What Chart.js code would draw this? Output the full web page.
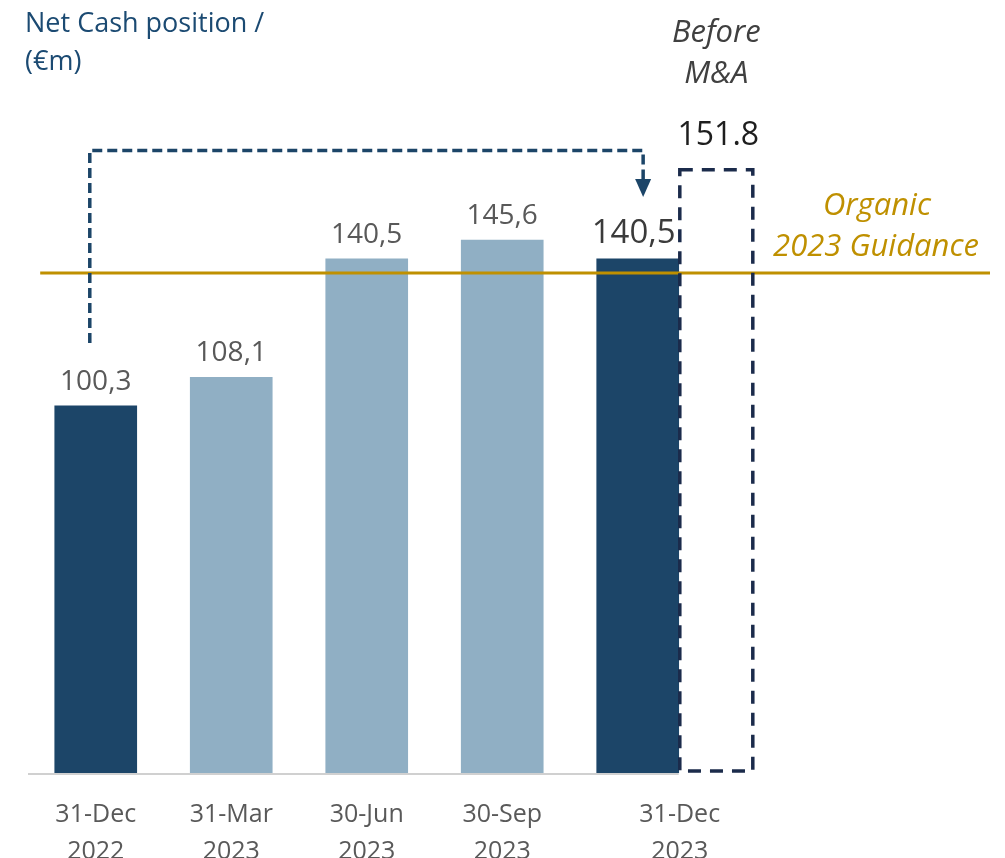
<!DOCTYPE html>
<html>
<head>
<meta charset="utf-8">
<script src="https://cdn.jsdelivr.net/npm/chart.js@4/dist/chart.umd.min.js"></script>
<style>
  html, body { margin: 0; padding: 0; background: #ffffff; }
  #wrap { width: 1005px; height: 858px; position: relative; }
</style>
</head>
<body>
<div id="wrap"><canvas id="c"></canvas></div>
<script>
// ---- data ----
const categories = ['31-Dec 2022', '31-Mar 2023', '30-Jun 2023', '30-Sep 2023', '31-Dec 2023'];
const tickLabels = [['31-Dec', '2022'], ['31-Mar', '2023'], ['30-Jun', '2023'], ['30-Sep', '2023'], ['31-Dec', '2023']];
const netCash = [100.3, 108.1, 140.5, 145.6, 140.5];
const beforeMALabel = 151.8;        // printed value above the dashed bar
const beforeMABoxHeight = 164.8;    // height of the dashed bar as pictured
const organicGuidance = 136.6;      // level of the gold guidance line

// ---- styling ----
const DARK = '#1c4568';
const LIGHT = '#90afc4';
const GOLD = '#bf9000';
const BOX = '#1b2b4b';
const FONT = '"Open Sans", "Noto Sans", sans-serif';

const isYearEnd = categories.map(c => c.startsWith('31-Dec'));
const mainData = netCash.map((v, i) => ({ x: i, y: v }));
const boxPosition = 4.58;
const tickPositions = [0, 1, 2, 3, 4.31];

const fmt = v => v.toFixed(1).replace('.', ',');

const overlay = {
  id: 'overlay',
  beforeDatasetsDraw(chart) {
    const { ctx, chartArea } = chart;
    const y = chart.scales.y;
    const meta = chart.getDatasetMeta(0);
    const last = meta.data[meta.data.length - 1];
    ctx.save();
    ctx.strokeStyle = '#d0d0d0';
    ctx.lineWidth = 2;
    ctx.beginPath();
    ctx.moveTo(chartArea.left, y.getPixelForValue(0) + 1);
    ctx.lineTo(last.x + last.width / 2, y.getPixelForValue(0) + 1);
    ctx.stroke();
    ctx.restore();
  },
  afterDatasetsDraw(chart) {
    const { ctx, chartArea } = chart;
    const xs = chart.scales.x, ys = chart.scales.y;
    ctx.save();

    // guidance line
    const gy = ys.getPixelForValue(organicGuidance);
    ctx.strokeStyle = GOLD;
    ctx.lineWidth = 3;
    ctx.beginPath();
    ctx.moveTo(xs.getPixelForValue(-0.41), gy);
    ctx.lineTo(chartArea.right, gy);
    ctx.stroke();

    // dashed "before M&A" bar
    const box = chart.getDatasetMeta(1).data[0];
    const bl = box.x - box.width / 2, br = box.x + box.width / 2;
    ctx.strokeStyle = BOX;
    ctx.lineWidth = 3.5;
    ctx.setLineDash([13, 9]);
    ctx.strokeRect(bl, box.y, br - bl, box.base - box.y - 2);
    ctx.setLineDash([]);

    // dashed arrow path
    const p = (x, v) => [xs.getPixelForValue(x), ys.getPixelForValue(v)];
    const a0 = p(-0.044, 117.5), a1 = p(-0.044, 170.1), a2 = p(4.04, 170.1), a3 = p(4.04, 161.5), tip = p(4.04, 157.4);
    ctx.strokeStyle = DARK;
    ctx.lineWidth = 3.5;
    ctx.setLineDash([10, 5]);
    ctx.beginPath();
    ctx.moveTo(...a0); ctx.lineTo(...a1); ctx.lineTo(...a2); ctx.lineTo(a3[0], a3[1] - 2);
    ctx.stroke();
    ctx.setLineDash([]);
    ctx.fillStyle = DARK;
    ctx.beginPath();
    ctx.moveTo(a3[0] - 8, a3[1] - 3);
    ctx.lineTo(a3[0] + 8, a3[1] - 3);
    ctx.lineTo(tip[0], tip[1]);
    ctx.closePath();
    ctx.fill();

    // value labels
    const meta = chart.getDatasetMeta(0);
    ctx.textAlign = 'center';
    ctx.textBaseline = 'alphabetic';
    meta.data.forEach((el, i) => {
      const lastBar = i === meta.data.length - 1;
      ctx.font = (lastBar ? '33px ' : '28px ') + FONT;
      ctx.fillStyle = lastBar ? '#3b3b3b' : '#595959';
      ctx.fillText(fmt(netCash[i]), el.x - (lastBar ? 4 : 0), el.y - 16);
    });

    // before M&A labels
    ctx.fillStyle = '#1e1e1e';
    ctx.font = '32px ' + FONT;
    ctx.fillText(beforeMALabel.toFixed(1), box.x + 2, box.y - 25);
    ctx.fillStyle = '#404040';
    ctx.font = 'italic 31px ' + FONT;
    ctx.fillText('Before', box.x, 42);
    ctx.fillText('M&A', box.x, 83);

    // organic guidance text
    ctx.fillStyle = GOLD;
    ctx.font = 'italic 31px ' + FONT;
    ctx.fillText('Organic', 877, gy - 58);
    ctx.fillText('2023 Guidance', 876, gy - 17);

    // title
    ctx.textAlign = 'left';
    ctx.fillStyle = '#1b4a72';
    ctx.font = '27px ' + FONT;
    ctx.fillText('Net Cash position /', 25, 32);
    ctx.fillText('(€m)', 25, 70);
    ctx.restore();
  }
};

new Chart(document.getElementById('c'), {
  type: 'bar',
  data: {
    labels: categories,
    datasets: [
      {
        label: 'Net Cash position',
        data: mainData,
        backgroundColor: isYearEnd.map(d => d ? DARK : LIGHT),
        barThickness: 82,
        grouped: false,
        borderWidth: 0
      },
      {
        label: 'Before M&A',
        data: [{ x: boxPosition, y: beforeMABoxHeight }],
        backgroundColor: 'rgba(0,0,0,0)',
        barThickness: 73,
        grouped: false,
        borderWidth: 0
      }
    ]
  },
  options: {
    responsive: true,
    maintainAspectRatio: false,
    animation: false,
    layout: { padding: { left: 28, right: 15, top: 41, bottom: 0 } },
    plugins: { legend: { display: false }, tooltip: { enabled: false } },
    scales: {
      x: {
        type: 'linear',
        offset: false,
        min: -0.5,
        max: 6.6,
        grid: { display: false, drawTicks: false, offset: false },
        border: { display: false },
        afterBuildTicks: (axis) => { axis.ticks = tickPositions.map(v => ({ value: v })); },
        afterFit: (axis) => { axis.height = 85; },
        ticks: {
          autoSkip: false,
          maxRotation: 0,
          padding: 23,
          color: '#595959',
          font: { family: FONT, size: 25, lineHeight: 1.48 },
          callback: (value, index) => tickLabels[index]
        }
      },
      y: {
        display: false,
        min: 0,
        max: 200,
        grid: { display: false }
      }
    }
  },
  plugins: [overlay]
});
</script>
</body>
</html>
